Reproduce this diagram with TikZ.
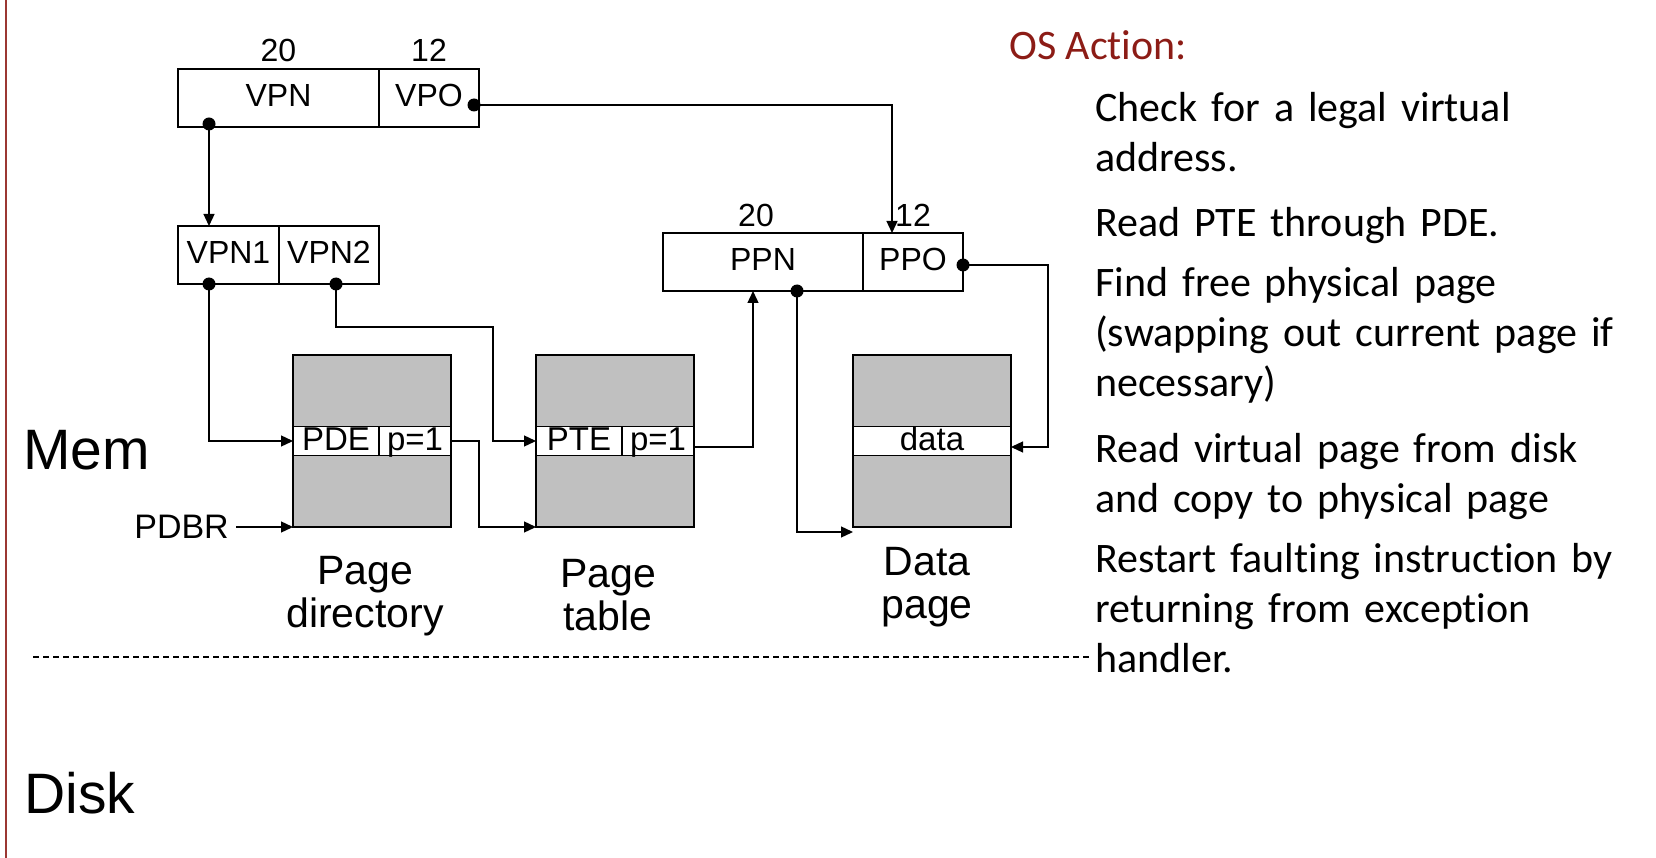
\documentclass[tikz,border=0pt]{standalone}
\usepackage{fontspec}
\usetikzlibrary{arrows.meta,positioning}
\newfontfamily\figfont{Liberation Sans}
\newfontfamily\notefont[Ligatures=NoCommon]{Carlito}
\definecolor{pagegray}{RGB}{192,192,192}
\definecolor{osred}{RGB}{140,28,22}
\definecolor{rulered}{RGB}{155,55,50}

\begin{document}
\begin{tikzpicture}[x=1pt,y=-1pt,
    field/.style={draw, line width=1.4pt, minimum height=58pt, inner sep=0pt, outer sep=0pt,
      text height=24pt, text depth=6pt, font=\figfont\fontsize{32}{38}\selectfont},
    bits/.style={inner sep=0pt, font=\figfont\fontsize{32}{38}\selectfont},
    page/.style={draw, line width=1.4pt, fill=pagegray, outer sep=0pt,
      minimum width=158pt, minimum height=172pt},
    entry/.style={draw, line width=1.4pt, fill=white, minimum height=29pt, inner sep=0pt,
      outer sep=0pt, text height=24pt, text depth=5pt, font=\figfont\fontsize{33}{36}\selectfont},
    caption/.style={align=center, inner sep=0pt, anchor=north,
      font=\figfont\fontsize{41}{43}\selectfont},
    region/.style={inner sep=0pt, anchor=base west, font=\figfont\fontsize{57}{64}\selectfont},
    action/.style={inner sep=0pt, anchor=base west, text width=570pt, align=left,
      font=\notefont\fontsize{42}{50}\selectfont},
    link/.style={line width=1.3pt, -{Triangle[length=12pt,width=11pt]}}]
  \useasboundingbox (0,0) rectangle (1656,858);
  % left rule
  \draw[rulered, line width=2pt] (6,0) -- (6,858);
  % address fields
  \node[field, minimum width=201pt] (vpn) at (278.5,98) {VPN};
  \node[field, minimum width=100pt, anchor=west] (vpo) at (vpn.east) {VPO};
  \node[bits, above=7pt of vpn] (vpnbits) {20};
  \node[bits, above=7pt of vpo] (vpobits) {12};
  \node[field, minimum width=101pt] (vpn1) at (228.5,255) {VPN1};
  \node[field, minimum width=100pt, anchor=west] (vpn2) at (vpn1.east) {VPN2};
  \node[field, minimum width=200pt] (ppn) at (763,262) {PPN};
  \node[field, minimum width=100pt, anchor=west] (ppo) at (ppn.east) {PPO};
  \node[bits, above=6pt of ppn, xshift=-7pt] (ppnbits) {20};
  \node[bits, above=6pt of ppo] (ppobits) {12};
  % pages
  \node[page] (pd) at (372,441) {};
  \node[entry, minimum width=86pt, anchor=west] (pde) at (pd.west) {PDE};
  \node[entry, minimum width=72pt, anchor=west] (pdp) at (pde.east) {p=1};
  \node[page] (pt) at (615,441) {};
  \node[entry, minimum width=86pt, anchor=west] (pte) at (pt.west) {PTE};
  \node[entry, minimum width=72pt, anchor=west] (ptp) at (pte.east) {p=1};
  \node[page] (dp) at (932,441) {};
  \node[entry, minimum width=158pt] (data) at (dp) {data};
  \node[caption] (pdname) at (365,556) {Page\\directory};
  \node[caption] (ptname) at (608,559) {Page\\table};
  \node[caption] (dpname) at (927,547) {Data\\page};
  \node[bits, anchor=east, font=\figfont\fontsize{34}{38}\selectfont] (pdbr) at (229,527) {PDBR};
  \node[region] (mem) at (23,469) {Mem};
  \node[region] (disk) at (24,813) {Disk};
  % lines
  \coordinate (vpndot) at ([xshift=31pt,yshift=3pt]vpn.south west);
  \coordinate (vpodot) at ([xshift=-5pt,yshift=-7pt]vpo.east);
  \coordinate (vpn1dot) at ([xshift=31pt]vpn1.south west);
  \coordinate (vpn2dot) at ([xshift=7pt]vpn2.south);
  \coordinate (ppndot) at ([xshift=34pt]ppn.south);
  \coordinate (ppodot) at ([yshift=-3pt]ppo.east);
  \coordinate (vpn2turn) at (493,327);
  \draw[link] (vpndot) -- (vpndot |- vpn1.north);
  \draw[link] (vpodot) -| ([xshift=-21pt]ppo.north);
  \draw[link] (vpn1dot) |- (pde.west);
  \draw[link] (vpn2dot) |- (vpn2turn) |- (pte.west);
  \draw[link] (pdp.east) -- ++(28,0) |- (pt.south west);
  \draw[link, shorten <=7pt] (pdbr.east) -- (pd.south west);
  \draw[link] ([yshift=-6pt]ptp.east) -| ([xshift=-10pt]ppn.south);
  \draw[link] (ppndot) |- ([yshift=-5pt]dp.south west);
  \draw[link] (ppodot) -- ++(85,0) |- ([yshift=-6pt]data.east);
  % dots
  \foreach \d in {vpndot,vpodot,vpn1dot,vpn2dot,ppndot,ppodot}
    \fill (\d) circle (6.5pt);
  % mem / disk boundary
  \draw[line width=1.1pt, dash pattern=on 6pt off 4pt] (33,657) -- (1092,657);
  % OS actions
  \node[inner sep=0pt, anchor=base west, text=osred,
    font=\notefont\fontsize{42}{50}\selectfont] (ostitle) at (1009,60) {OS Action:};
  \node[action] (act1) at (1095,122) {Check for a legal virtual\\address.};
  \node[action] (act2) at (1095,237) {Read PTE through PDE.};
  \node[action] (act3) at (1095,297) {Find free physical page\\(swapping out current page if\\necessary)};
  \node[action] (act4) at (1095,462) {Read virtual page from disk\\and copy to physical page};
  \node[action] (act5) at (1095,572) {Restart faulting instruction by\\returning from exception\\handler.};
\end{tikzpicture}
\end{document}
